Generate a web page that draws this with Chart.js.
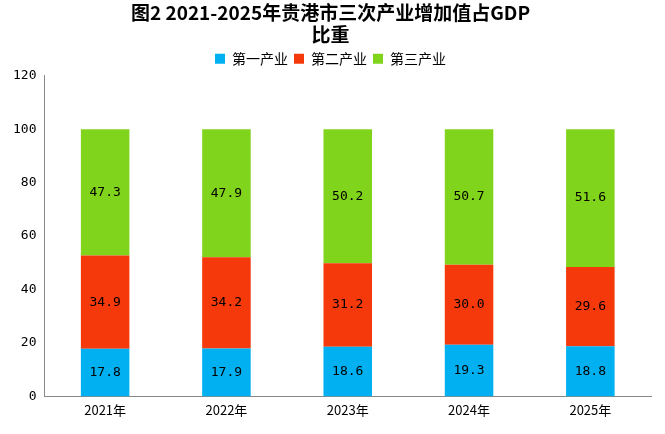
<!DOCTYPE html>
<html>
<head>
<meta charset="utf-8">
<script src="https://cdn.jsdelivr.net/npm/chart.js@4"></script>
<style>
  body { margin: 0; background: #fff; }
  #wrap { width: 665px; height: 434px; }
</style>
</head>
<body>
<div id="wrap"><canvas id="chart"></canvas></div>
<script>
const years = ['2021年', '2022年', '2023年', '2024年', '2025年'];
const primary = [17.8, 17.9, 18.6, 19.3, 18.8];
const secondary = [34.9, 34.2, 31.2, 30.0, 29.6];
const tertiary = [47.3, 47.9, 50.2, 50.7, 51.6];
const seriesNames = ['第一产业', '第二产业', '第三产业'];

// value labels in the middle of each segment
const segmentLabels = {
  id: 'segmentLabels',
  afterDatasetsDraw(chart) {
    const ctx = chart.ctx;
    ctx.save();
    ctx.font = '13px "DejaVu Sans Mono", monospace';
    ctx.fillStyle = '#000';
    ctx.textAlign = 'center';
    ctx.textBaseline = 'middle';
    chart.data.datasets.forEach((ds, i) => {
      chart.getDatasetMeta(i).data.forEach((bar, j) => {
        const mid = (bar.y + bar.base) / 2;
        ctx.fillText(ds.data[j].toFixed(1), bar.x, mid);
      });
    });
    ctx.restore();
  }
};

new Chart(document.getElementById('chart'), {
  type: 'bar',
  data: {
    labels: years,
    datasets: [
      { label: seriesNames[0], data: primary, backgroundColor: '#00b0f0' },
      { label: seriesNames[1], data: secondary, backgroundColor: '#f5390a' },
      { label: seriesNames[2], data: tertiary, backgroundColor: '#80d41c' }
    ]
  },
  options: {
    responsive: true,
    maintainAspectRatio: false,
    animation: false,
    layout: { padding: { left: 10, right: 14, bottom: 10 } },
    datasets: { bar: { barPercentage: 0.4, categoryPercentage: 1 } },
    plugins: {
      title: {
        display: true,
        text: ['图2 2021-2025年贵港市三次产业增加值占GDP', '比重'],
        font: { family: '"Noto Sans CJK SC"', size: 19, weight: 'bold', lineHeight: 1.15 },
        color: '#000',
        padding: { top: 2, bottom: 0 }
      },
      legend: {
        labels: {
          boxWidth: 10, boxHeight: 10, padding: 6,
          font: { family: '"Noto Sans CJK SC"', size: 14 }, color: '#000'
        }
      },
      tooltip: { enabled: false }
    },
    scales: {
      x: {
        stacked: true,
        grid: { display: false, drawTicks: false },
        border: { color: '#888' },
        ticks: { color: '#000', padding: 6, font: { family: '"Noto Sans CJK SC"', size: 13 } }
      },
      y: {
        stacked: true,
        min: 0, max: 120,
        ticks: { stepSize: 20, color: '#000', font: { family: '"DejaVu Sans Mono"', size: 13 } },
        grid: { display: false, drawTicks: true, tickLength: 5, tickColor: '#888' },
        border: { color: '#888' }
      }
    }
  },
  plugins: [segmentLabels]
});
</script>
</body>
</html>
